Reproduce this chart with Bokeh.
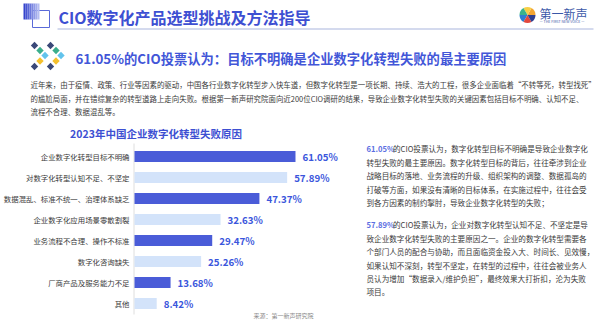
import math
from bokeh.plotting import figure
from bokeh.models import Range1d, ColumnDataSource
from bokeh.core.properties import value
from bokeh.embed import file_html
from bokeh.resources import INLINE

FONT = "Noto Sans CJK SC"

# ---------------- content ----------------
header_title = "CIO数字化产品选型挑战及方法指导"
brand_name = "第一新声"
brand_sub = "— THE FIRST NEW VOICE —"
sub_title = "61.05%的CIO投票认为：目标不明确是企业数字化转型失败的最主要原因"
intro_lines = [
    "近年来，由于疫情、政策、行业等因素的驱动，中国各行业数字化转型步入快车道，但数字化转型是一项长期、持续、浩大的工程，很多企业面临着“不转等死，转型找死”",
    "的尴尬局面，并在错综复杂的转型道路上走向失败。根据第一新声研究院面向近200位CIO调研的结果，导致企业数字化转型失败的关键因素包括目标不明确、认知不足、",
    "流程不合理、数据混乱等。",
]
chart_title = "2023年中国企业数字化转型失败原因"
categories = [
    "企业数字化转型目标不明确",
    "对数字化转型认知不足、不坚定",
    "数据混乱、标准不统一、治理体系缺乏",
    "企业数字化应用场景零散割裂",
    "业务流程不合理、操作不标准",
    "数字化咨询缺失",
    "厂商产品及服务能力不足",
    "其他",
]
values = [61.05, 57.89, 47.37, 32.63, 29.47, 25.26, 13.68, 8.42]
source_note = "来源：第一新声研究院"

p1_highlight = "61.05%"
p1_lines = [
    "的CIO投票认为，数字化转型目标不明确是导致企业数字化",
    "转型失败的最主要原因。数字化转型目标的背后，往往牵涉到企业",
    "战略目标的落地、业务流程的升级、组织架构的调整、数据孤岛的",
    "打破等方面，如果没有清晰的目标体系，在实施过程中，往往会受",
    "到各方因素的制约掣肘，导致企业数字化转型的失败；",
]
p2_highlight = "57.89%"
p2_lines = [
    "的CIO投票认为，企业对数字化转型认知不足、不坚定是导",
    "致企业数字化转型失败的主要原因之一。企业的数字化转型需要各",
    "个部门人员的配合与协助，而且面临资金投入大、时间长、见效慢，",
    "如果认知不深刻，转型不坚定，在转型的过程中，往往会被业务人",
    "员认为增加“数据录入/维护负担”，最终效果大打折扣，沦为失败",
    "项目。",
]

# ---------------- styles ----------------
BLUE_TITLE = "#3d4fd2"
DARK_BAR = "#4a5cd8"
LIGHT_BAR = "#d3e3fa"
VAL_COLOR = "#3a56dc"
TEXT_COLOR = "#3a3a3a"
HL_COLOR = "#5a6ee2"

W, H = 600, 322
p = figure(width=W, height=H, x_range=Range1d(0, W), y_range=Range1d(H, 0),
           output_backend="svg", toolbar_location=None,
           x_axis_location=None, y_axis_location=None, min_border=0,
           outline_line_color=None, background_fill_color="white",
           border_fill_color="white")
p.grid.visible = False

# bar scales
bar_x0 = 134.0
px_per = 2.637
p.extra_x_ranges = {"pct": Range1d(-bar_x0 / px_per, (W - bar_x0) / px_per)}
row0, row_step = 156.0, 21.0
p.extra_y_ranges = {"cat": Range1d((H - row0) / row_step, -row0 / row_step)}

# ---------------- header ----------------
# icon: outline square behind, gradient square in front
p.quad(left=32, right=49, top=10, bottom=27, fill_color=None, line_color="#5a6ad8", line_width=1)
n = 8
for i in range(n):
    t = i / (n - 1)
    r = int(0x35 + t * (0xb5 - 0x35))
    g = int(0x44 + t * (0xbd - 0x44))
    b = int(0xcc + t * (0xf2 - 0xcc))
    p.quad(left=23 + i * 2, right=23 + (i + 1) * 2, top=3, bottom=19,
           fill_color="#%02x%02x%02x" % (r, g, b), line_color=None)

p.text(x=[58], y=[16.5], text=[header_title], text_font=value(FONT), text_font_style="bold",
       text_font_size="16px", text_color=BLUE_TITLE, text_baseline="middle")
p.segment(x0=57, y0=28.5, x1=593, y1=28.5, line_color="#c6cee9", line_width=1.5)

# logo
logo_cols = ["#f4a531", "#f6cf46", "#39b38b", "#2d7dd2", "#e2473d", "#2f3f8f"]
for k, c in enumerate(logo_cols):
    a0 = k * 2 * math.pi / len(logo_cols)
    p.wedge(x=527, y=14.5, radius=8, start_angle=a0, end_angle=a0 + 2 * math.pi / len(logo_cols),
            fill_color=c, line_color=None)
p.text(x=[539], y=[13], text=[brand_name], text_font=value(FONT), text_font_size="12px",
       text_color="#3b58a8", text_baseline="middle")
p.text(x=[539], y=[21.3], text=[brand_sub], text_font=value(FONT), text_font_size="3.6px",
       text_color="#3b58a8", text_baseline="middle")

# diamond icon
dx = [34, 50, 39.5, 55.5, 44.5, 60.5, 39.5, 55.5, 34, 50]
dy = [45, 45, 50, 50, 55, 55, 60.5, 60.5, 66, 66]
dc = ["#3a4878", "#3a4878", "#3aae8c", "#3aae8c", "#62c3ec", "#62c3ec",
      "#f5c02c", "#f5c02c", "#3a4878", "#3a4878"]
p.scatter(x=dx, y=dy, marker="square", size=5.2, angle=math.pi / 4, fill_color=dc, line_color=None)

p.text(x=[75], y=[57.5], text=[sub_title], text_font=value(FONT), text_font_style="bold",
       text_font_size="13.3px", text_color="#4256d8", text_baseline="middle")

intro_y = [84 + 13.5 * i for i in range(len(intro_lines))]
p.text(x=[30] * len(intro_lines), y=intro_y, text=intro_lines, text_font=value(FONT),
       text_font_size="7.45px", text_color=TEXT_COLOR, text_baseline="middle")

# ---------------- chart ----------------
p.text(x=[155.5], y=[133], text=[chart_title], text_font=value(FONT), text_font_style="bold",
       text_font_size="10.5px", text_color=BLUE_TITLE, text_baseline="middle", text_align="center")

p.segment(x0=133.5, y0=143, x1=133.5, y1=314, line_color="#dedede", line_width=1)

src = ColumnDataSource(dict(
    idx=list(range(len(categories))),
    cat=categories,
    val=values,
    lab=["%.2f%%" % v for v in values],
    color=[DARK_BAR if i % 2 == 0 else LIGHT_BAR for i in range(len(categories))],
))
p.hbar(y="idx", left=0, right="val", height=0.52, fill_color="color", line_color=None,
       source=src, x_range_name="pct", y_range_name="cat")
p.text(x="val", y="idx", text="lab", x_offset=7, text_baseline="middle", text_align="left",
       text_font=value(FONT), text_font_style="bold", text_font_size="9.7px",
       text_color=VAL_COLOR, source=src, x_range_name="pct", y_range_name="cat")
p.text(x=129, y="idx", text="cat", text_baseline="middle", text_align="right",
       text_font=value(FONT), text_font_size="7.4px", text_color=TEXT_COLOR,
       source=src, y_range_name="cat")

p.text(x=[253], y=[315], text=[source_note], text_font=value(FONT), text_font_size="6px",
       text_color="#8a8a8a", text_baseline="middle")

# ---------------- right commentary ----------------
rx = 366
hl_w = 26.5
lh = 13.4
for top, hl, lines in ((148.3, p1_highlight, p1_lines), (224.3, p2_highlight, p2_lines)):
    ys = [top + lh * i for i in range(len(lines))]
    xs = [rx + hl_w] + [rx] * (len(lines) - 1)
    p.text(x=[rx], y=[top], text=[hl], text_font=value(FONT), text_font_style="bold",
           text_font_size="7.6px", text_color=HL_COLOR, text_baseline="middle")
    p.text(x=xs, y=ys, text=lines, text_font=value(FONT), text_font_size="7.6px",
           text_color=TEXT_COLOR, text_baseline="middle")

open("out.html", "w").write(file_html(p, INLINE))
